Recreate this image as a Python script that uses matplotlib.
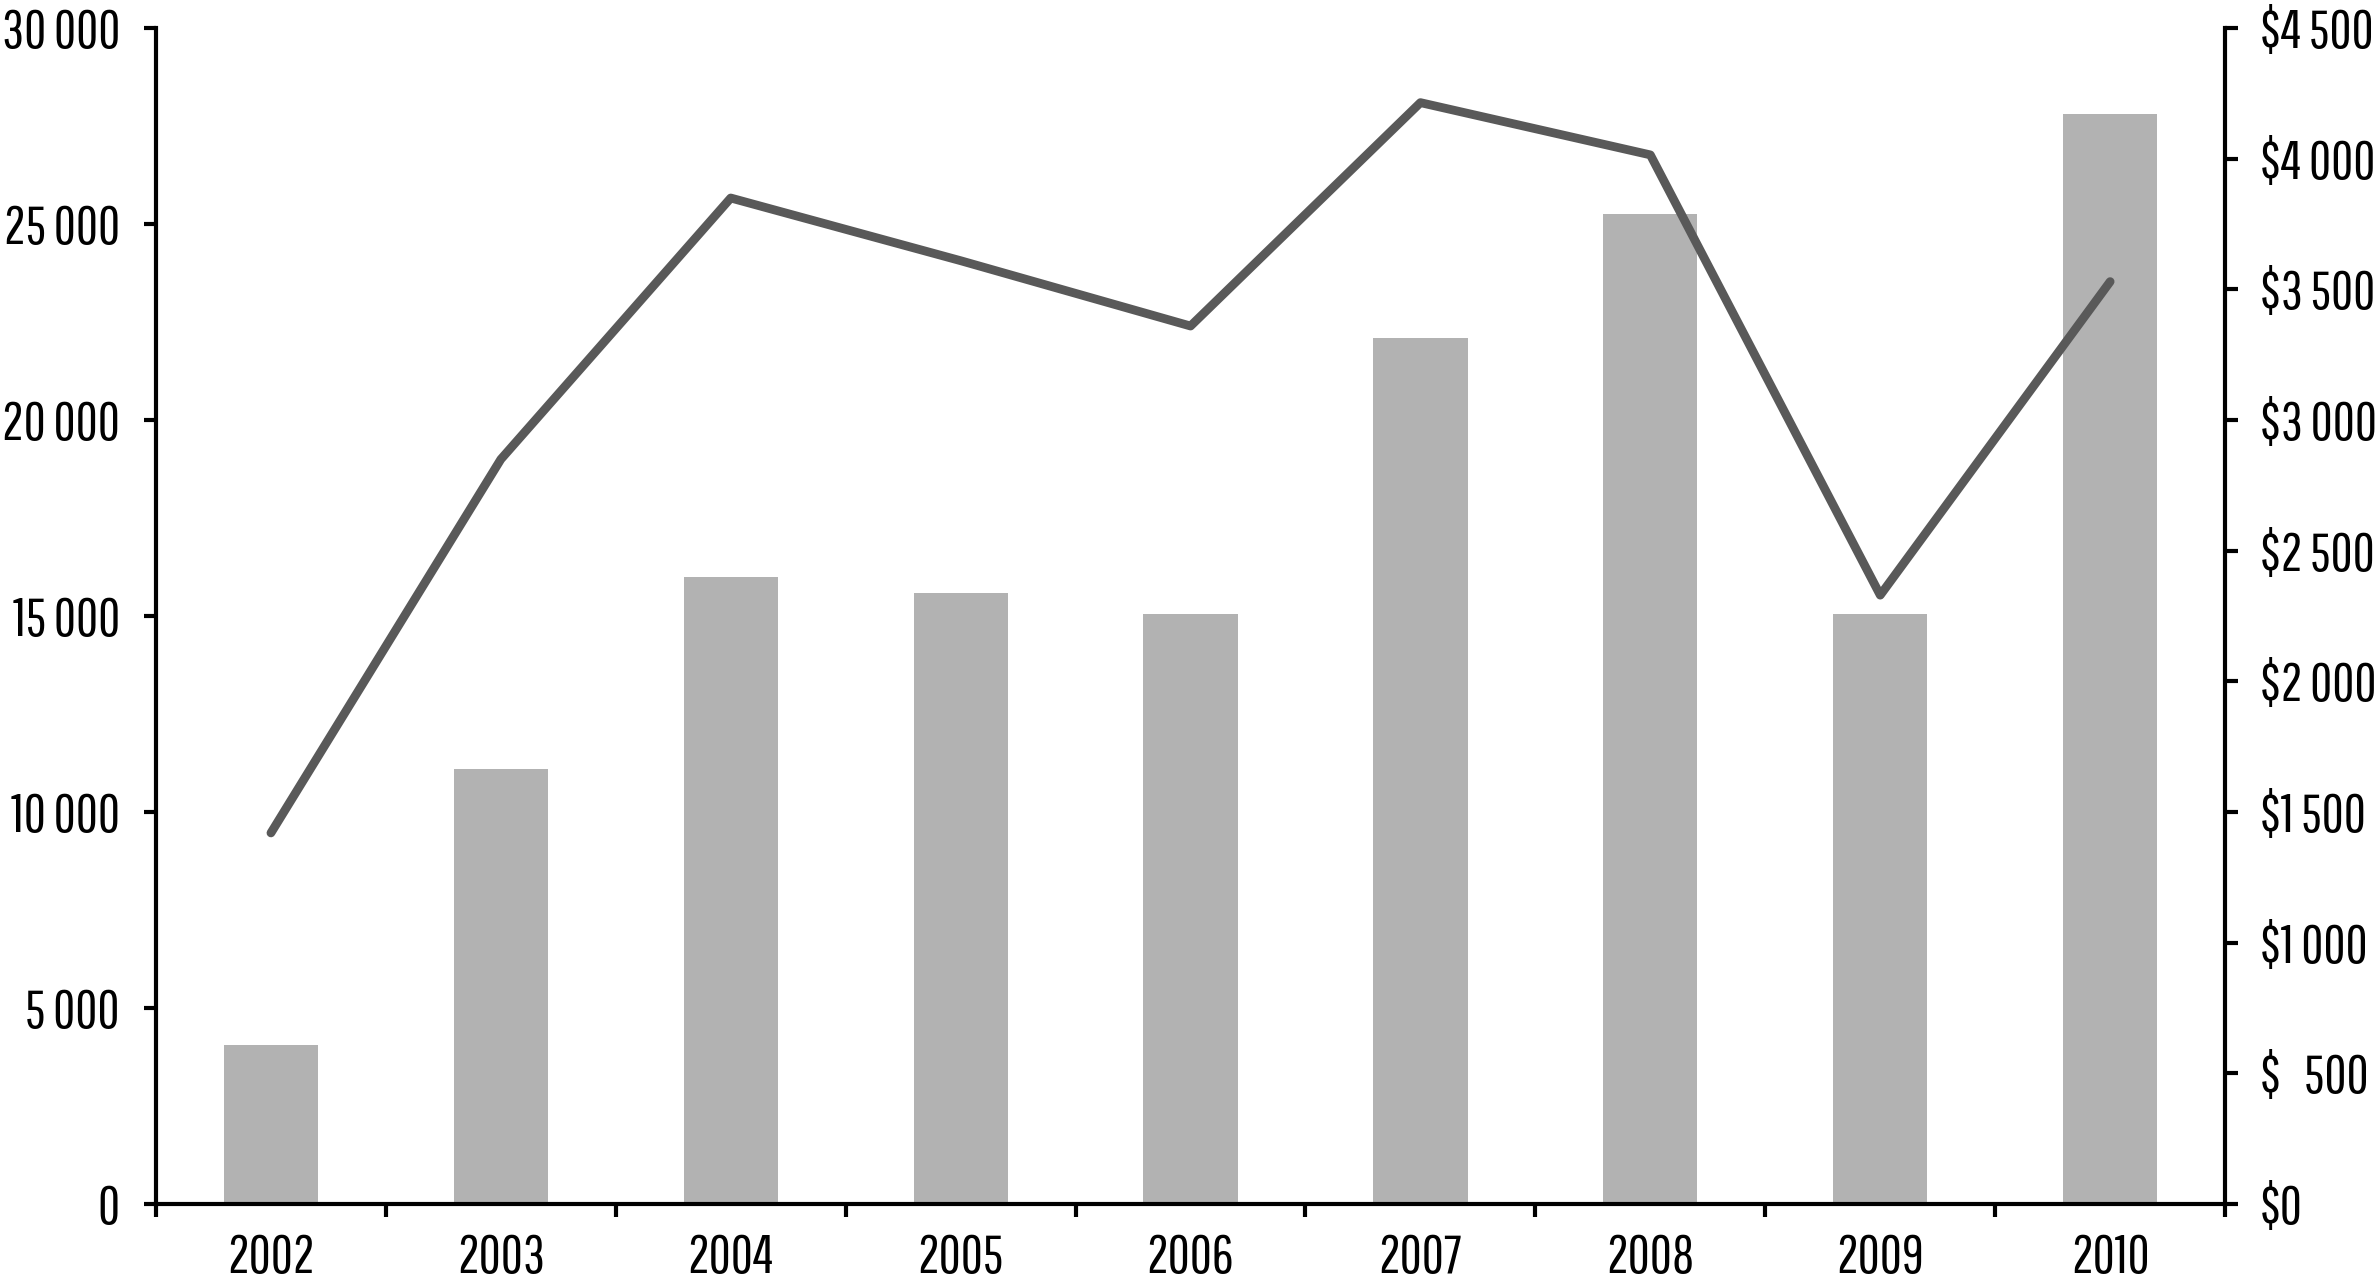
import matplotlib.pyplot as plt
import numpy as np

plt.rcParams['font.family'] = ['Pathway Gothic One', 'Barlow Condensed', 'DejaVu Sans']
plt.rcParams['font.size'] = 39

# data
years = ['2002', '2003', '2004', '2005', '2006', '2007', '2008', '2009', '2010']
volume = [4050, 11100, 16000, 15600, 15050, 22100, 25250, 15050, 27800]
price = [1420, 2850, 3850, 3610, 3360, 4215, 4015, 2330, 3530]

left_ticks = [0, 5000, 10000, 15000, 20000, 25000, 30000]
left_labels = ['0', '5 000', '10 000', '15 000', '20 000', '25 000', '30 000']
right_ticks = [0, 500, 1000, 1500, 2000, 2500, 3000, 3500, 4000, 4500]
right_labels = ['$0', '$   500', '$1 000', '$1 500', '$2 000', '$2 500',
                '$3 000', '$3 500', '$4 000', '$4 500']

x = np.arange(len(years))

fig = plt.figure(figsize=(23.78, 12.8), dpi=100)
ax = fig.add_axes([0.0656, 0.0594, 0.8701, 0.9186])
ax.bar(x, volume, width=0.41, color='#b2b2b2', zorder=2)

ax2 = ax.twinx()
ax2.plot(x, price, color='#595959', linewidth=6.3, solid_capstyle='round', zorder=3)

ax.set_xlim(-0.5, len(years) - 0.5)
ax.set_ylim(0, 30000)
ax2.set_ylim(0, 4500)

ax.set_yticks(left_ticks)
ax.set_yticklabels(left_labels)
ax2.set_yticks(right_ticks)
ax2.set_yticklabels(right_labels)

# ticks sit between the years, labels under the bars
ax.set_xticks(np.arange(-0.5, len(years), 1.0))
ax.set_xticklabels([])
ax.set_xticks(x, minor=True)
ax.set_xticklabels(years, minor=True)
ax.tick_params(axis='x', which='minor', length=0, pad=21)
ax.tick_params(axis='x', which='major', length=9, width=3, direction='out')
ax.tick_params(axis='y', length=9, width=3, pad=17)
ax2.tick_params(axis='y', length=9, width=3, pad=16)

for a in (ax, ax2):
    a.spines['top'].set_visible(False)
    for s in ('left', 'right', 'bottom'):
        a.spines[s].set_linewidth(3)
ax.spines['right'].set_visible(False)
ax2.spines['left'].set_visible(False)
ax2.spines['bottom'].set_visible(False)

fig.savefig('out.png', dpi=100)
